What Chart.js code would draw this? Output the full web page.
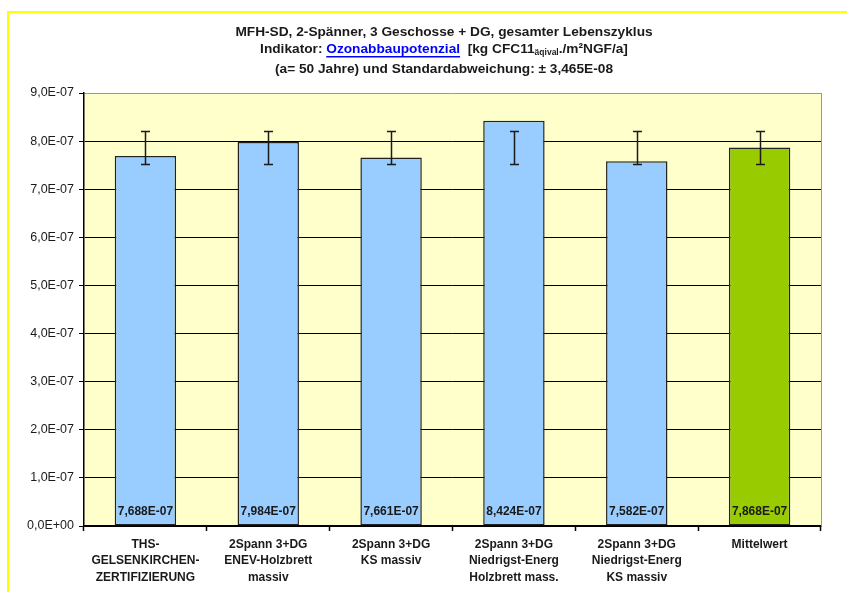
<!DOCTYPE html>
<html>
<head>
<meta charset="utf-8">
<script src="https://cdn.jsdelivr.net/npm/chart.js@4/dist/chart.umd.min.js"></script>
<style>
    body { margin: 0; background: #ffffff; }
    canvas { display: block; }
</style>
</head>
<body>
<canvas id="ozonChart" width="847" height="592"></canvas>
<script>
// Chart data
const categories = [
    ['THS-', 'GELSENKIRCHEN-', 'ZERTIFIZIERUNG'],
    ['2Spann 3+DG', 'ENEV-Holzbrett', 'massiv'],
    ['2Spann 3+DG', 'KS massiv'],
    ['2Spann 3+DG', 'Niedrigst-Energ', 'Holzbrett mass.'],
    ['2Spann 3+DG', 'Niedrigst-Energ', 'KS massiv'],
    ['Mittelwert']
];
const values = [7.688e-7, 7.984e-7, 7.661e-7, 8.424e-7, 7.582e-7, 7.868e-7];
const barColors = ['#99ccff', '#99ccff', '#99ccff', '#99ccff', '#99ccff', '#99cc00'];
const meanValue = 7.868e-7;
const stdDev = 3.465e-8;
const yTicks = [0, 1e-7, 2e-7, 3e-7, 4e-7, 5e-7, 6e-7, 7e-7, 8e-7, 9e-7];

const FONT = '"Liberation Sans", Arial, sans-serif';

// Format like Excel: 7,688E-07
function sciFormat(value, digits) {
    if (Math.abs(value) < 1e-20) return (0).toFixed(digits).replace('.', ',') + 'E+00';
    let exp = Math.floor(Math.log10(Math.abs(value)));
    let mant = value / Math.pow(10, exp);
    if (Math.round(mant * Math.pow(10, digits)) >= 10 * Math.pow(10, digits)) {
        exp += 1;
        mant = value / Math.pow(10, exp);
    }
    const sign = exp < 0 ? '-' : '+';
    const e = String(Math.abs(exp)).padStart(2, '0');
    return mant.toFixed(digits).replace('.', ',') + 'E' + sign + e;
}

// Frame, plot background and title
const framePlugin = {
    id: 'frame',
    beforeDraw(chart) {
        const { ctx, chartArea } = chart;
        ctx.save();
        ctx.fillStyle = '#ffffcc';
        ctx.fillRect(chartArea.left, chartArea.top, chartArea.right - chartArea.left, chartArea.bottom - chartArea.top);
        // yellow outer frame
        ctx.fillStyle = '#ffff00';
        ctx.fillRect(7, 11, 840, 2);
        ctx.fillRect(7, 11, 2, 581);
        ctx.restore();
    },
    afterDraw(chart) {
        const { ctx, chartArea } = chart;
        ctx.save();
        // grey border on the right of the plot area
        ctx.strokeStyle = '#999999';
        ctx.lineWidth = 1;
        ctx.beginPath();
        ctx.moveTo(chartArea.right + 0.5, chartArea.top);
        ctx.lineTo(chartArea.right + 0.5, chartArea.bottom);
        ctx.stroke();

        // title
        const cx = 444;
        const bold = 'bold 13.7px ' + FONT;
        ctx.fillStyle = '#1a1a1a';
        ctx.textBaseline = 'middle';
        ctx.textAlign = 'center';
        ctx.font = bold;
        ctx.fillText('MFH-SD, 2-Spänner, 3 Geschosse + DG, gesamter Lebenszyklus', cx, 32);
        ctx.fillText('(a= 50 Jahre) und Standardabweichung: ± 3,465E-08', cx, 69);

        // line 2 with link and subscript
        const parts = [
            { text: 'Indikator: ', font: bold, color: '#1a1a1a' },
            { text: 'Ozonabbaupotenzial', font: bold, color: '#0000ff', underline: true },
            { text: '  [kg CFC11', font: bold, color: '#1a1a1a' },
            { text: 'äqival', font: 'bold 8.5px ' + FONT, color: '#1a1a1a', sub: true },
            { text: './m²NGF/a]', font: bold, color: '#1a1a1a' }
        ];
        let total = 0;
        parts.forEach(p => { ctx.font = p.font; p.w = ctx.measureText(p.text).width; total += p.w; });
        let x = cx - total / 2;
        ctx.textAlign = 'left';
        parts.forEach(p => {
            ctx.font = p.font;
            ctx.fillStyle = p.color;
            const y = p.sub ? 53 : 49;
            ctx.fillText(p.text, x, y);
            if (p.underline) {
                ctx.fillRect(x, 56, p.w, 1.5);
            }
            x += p.w;
        });
        ctx.restore();
    }
};

// Error bars and value labels
const barExtras = {
    id: 'barExtras',
    afterDatasetsDraw(chart) {
        const { ctx } = chart;
        const yScale = chart.scales.y;
        const meta = chart.getDatasetMeta(0);
        ctx.save();
        meta.data.forEach((bar, i) => {
            // error bar around the mean
            const yHi = Math.round(yScale.getPixelForValue(meanValue + stdDev)) + 0.5;
            const yLo = Math.round(yScale.getPixelForValue(meanValue - stdDev)) + 0.5;
            const x = Math.round(bar.x) + 0.5;
            ctx.strokeStyle = '#1a1a1a';
            ctx.lineWidth = 1.5;
            ctx.beginPath();
            ctx.moveTo(x, yHi);
            ctx.lineTo(x, yLo);
            ctx.moveTo(x - 4.5, yHi);
            ctx.lineTo(x + 4.5, yHi);
            ctx.moveTo(x - 4.5, yLo);
            ctx.lineTo(x + 4.5, yLo);
            ctx.stroke();

            // value label at bottom of bar
            ctx.fillStyle = '#1a1a1a';
            ctx.font = 'bold 12px ' + FONT;
            ctx.textAlign = 'center';
            ctx.textBaseline = 'middle';
            ctx.fillText(sciFormat(values[i], 3), bar.x, yScale.getPixelForValue(0) - 14);
        });
        ctx.restore();
    }
};

const ctx = document.getElementById('ozonChart');
new Chart(ctx, {
    type: 'bar',
    data: {
        labels: categories,
        datasets: [{
            data: values,
            backgroundColor: barColors,
            borderColor: '#222222',
            borderWidth: 1.5,
            borderSkipped: false,
            categoryPercentage: 0.5,
            barPercentage: 1.0
        }]
    },
    options: {
        responsive: false,
        animation: false,
        devicePixelRatio: 1,
        layout: {
            padding: { left: 10, top: 93, right: 26, bottom: 0 }
        },
        plugins: {
            legend: { display: false },
            tooltip: { enabled: false },
            title: { display: false }
        },
        scales: {
            x: {
                offset: true,
                afterFit(scale) { scale.height = 66; },
                grid: {
                    display: true,
                    offset: true,
                    drawOnChartArea: false,
                    drawTicks: true,
                    tickLength: 5,
                    tickColor: '#000000',
                    tickWidth: 1.5
                },
                border: { color: '#000000', width: 1.5 },
                ticks: {
                    padding: 5,
                    maxRotation: 0,
                    autoSkip: false,
                    color: '#1a1a1a',
                    font: { family: FONT, size: 12, weight: 'bold', lineHeight: 1.38 }
                }
            },
            y: {
                min: 0,
                max: 9e-7,
                afterFit(scale) { scale.width = 74; },
                afterBuildTicks(scale) {
                    scale.ticks = yTicks.map(v => ({ value: v }));
                },
                grid: {
                    color: c => (c.tick && c.tick.value >= 9e-7 - 1e-12) ? '#999999' : '#000000',
                    lineWidth: 1,
                    drawTicks: true,
                    tickLength: 5,
                    tickColor: '#000000'
                },
                border: { color: '#000000', width: 1.5 },
                ticks: {
                    padding: 5,
                    color: '#1a1a1a',
                    font: { family: FONT, size: 12.5 },
                    callback: v => sciFormat(v, 1)
                }
            }
        }
    },
    plugins: [framePlugin, barExtras]
});
</script>
</body>
</html>
